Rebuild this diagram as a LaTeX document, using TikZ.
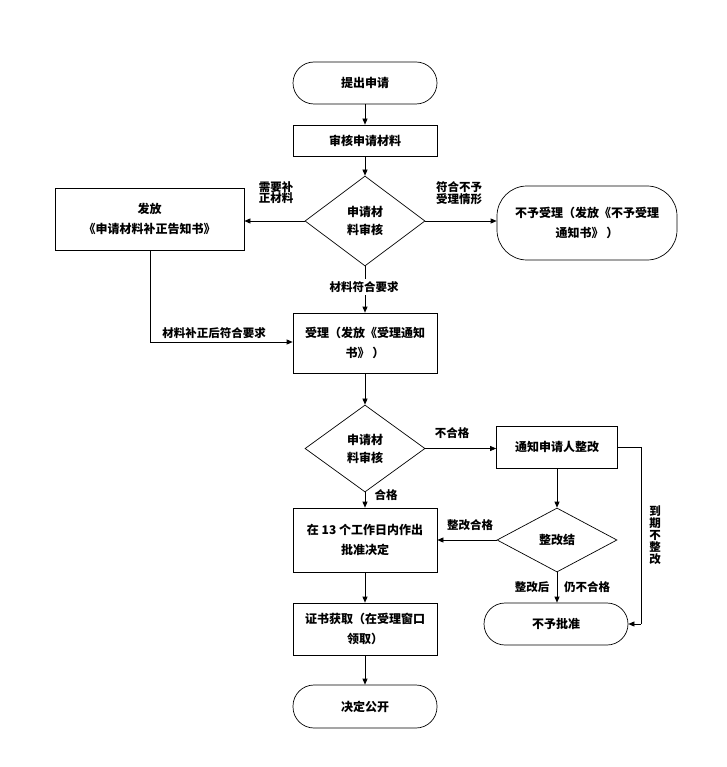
\documentclass[tikz,border=0pt]{standalone}
\usepackage{fontspec}
\setmainfont{Noto Sans CJK SC}
\usetikzlibrary{shapes.geometric,arrows.meta}
\tikzset{
  base/.style={draw=black, line width=0.7pt, align=center, inner sep=0pt,
    font=\fontsize{12}{19.5}\selectfont\bfseries},
  procbox/.style={base, rectangle, minimum width=144pt, minimum height=31pt},
  termbox/.style={base, rectangle, rounded corners=21pt, minimum width=144pt, minimum height=42pt},
  decbox/.style={base, diamond, minimum width=120pt, minimum height=90pt,
    font=\fontsize{12}{18}\selectfont\bfseries},
  lbl/.style={inner sep=1pt, align=center, font=\fontsize{11.5}{11}\selectfont\bfseries},
  conn/.style={line width=0.7pt, -{Triangle[length=6pt,width=5pt]}},
  plain/.style={line width=0.7pt}
}
\begin{document}
\begin{tikzpicture}[x=1pt,y=-1pt]
\useasboundingbox (0,0) rectangle (726,767);
% nodes
\node[termbox] (start) at (365,83) {提出申请};
\node[procbox] (review) at (365,140.5) {审核申请材料};
\node[decbox] (d1) at (365,221) {申请材\\料审核};
\node[procbox, minimum width=189pt, minimum height=62pt] (notice) at (149.5,219) {发放\\《申请材料补正告知书》};
\node[base, rectangle, rounded corners=30pt, minimum width=180pt, minimum height=74pt] (reject) at (587,223) {不予受理（发放《不予受理\\通知书》 ）};
\node[procbox, minimum height=60pt] (accept) at (365,343) {受理（发放《受理通知\\书》 ）};
\node[decbox, minimum height=87pt] (d2) at (365,448.5) {申请材\\料审核};
\node[procbox, minimum width=121pt, minimum height=42pt] (fix) at (557,447) {通知申请人整改};
\node[decbox, minimum height=64pt] (d3) at (557,540) {整改结};
\node[procbox, minimum height=64pt] (approve) at (365,540) {在 13 个工作日内作出\\批准决定};
\node[termbox] (deny) at (556,624) {不予批准};
\node[procbox, minimum height=52pt] (cert) at (365,629) {证书获取（在受理窗口\\领取）};
\node[termbox, minimum height=43pt] (pub) at (365,706.5) {决定公开};
% coordinates
\coordinate (c1) at (150,342);
\coordinate (c2) at (641,447);
\coordinate (c3) at (641,624);
% connectors
\draw[conn] (start) -- (review);
\draw[conn] (review) -- (d1);
\draw[conn] (d1.west) -- (d1.west -| notice.east);
\draw[conn] (d1.east) -- (d1.east -| reject.west);
\draw[conn] (d1.south) -- (accept.north);
\draw[plain] (notice.south -| c1) -- (c1);
\draw[conn] (c1) -- (c1 -| accept.west);
\draw[conn] (accept) -- (d2);
\draw[conn] (d2.east) -- (d2.east -| fix.west);
\draw[conn] (d2.south) -- (approve.north);
\draw[conn] (fix) -- (d3);
\draw[conn] (d3.west) -- (approve.east);
\draw[conn] (d3.south) -- (deny.north -| d3.south);
\draw[plain] (fix.east) -- (c2) -- (c3);
\draw[conn] (c3) -- (deny.east);
\draw[conn] (approve) -- (cert);
\draw[conn] (cert) -- (pub);
% labels
\node[lbl] (l1) at (276,193) {需要补\\正材料};
\node[lbl] (l2) at (459,193) {符合不予\\受理情形};
\node[lbl, fill=white, inner sep=2pt] (l3) at (364,287) {材料符合要求};
\node[lbl] (l4) at (214,333) {材料补正后符合要求};
\node[lbl] (l5) at (452,433) {不合格};
\node[lbl] (l6) at (386,495) {合格};
\node[lbl] (l7) at (470,525) {整改合格};
\node[lbl] (l8) at (532,587) {整改后};
\node[lbl] (l9) at (587,587) {仍不合格};
\node[lbl, font=\fontsize{11.5}{12}\selectfont\bfseries] (l10) at (655,535) {到\\期\\不\\整\\改};
\end{tikzpicture}
\end{document}
